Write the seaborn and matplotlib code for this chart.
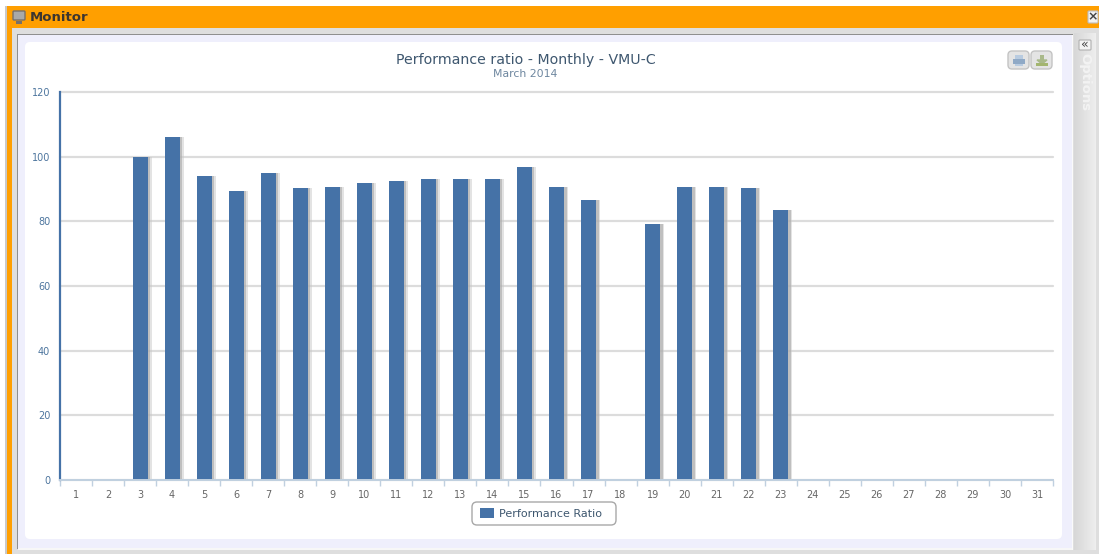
import numpy as np
import pandas as pd
import matplotlib
matplotlib.use("Agg")
import matplotlib.pyplot as plt
import matplotlib.patheffects as pe
from matplotlib.patches import FancyBboxPatch, Rectangle
import seaborn as sns

days = [str(d) for d in range(1, 32)]
performance = [np.nan, np.nan, 100, 106.2, 94, 89.5, 94.8, 90.2, 90.5, 92, 92.6, 93, 93, 93,
               96.8, 90.5, 86.7, np.nan, 79.3, 90.5, 90.7, 90.2, 83.5,
               np.nan, np.nan, np.nan, np.nan, np.nan, np.nan, np.nan, np.nan]
y_ticks = [0, 20, 40, 60, 80, 100, 120]
title = "Performance ratio - Monthly - VMU-C"
subtitle = "March 2014"
series_name = "Performance Ratio"

W, H = 1099, 554
blue = "#4572A7"
df = pd.DataFrame({"day": days, "value": performance})

sns.set_theme(style="white")
plt.rcParams["font.family"] = ["DejaVu Sans"]
fig = plt.figure(figsize=(W / 100, H / 100), dpi=100, facecolor="white")

# fenetre autour du graphique, en pixels
bg = fig.add_axes([0, 0, 1, 1], zorder=0)
bg.set_xlim(0, W)
bg.set_ylim(H, 0)
bg.axis("off")


def box(x0, y0, x1, y1, color, **kw):
    bg.add_patch(Rectangle((x0, y0), x1 - x0, y1 - y0, facecolor=color, edgecolor="none", **kw))


def rbox(x0, y0, x1, y1, color, edge="none", r=4, lw=1):
    bg.add_patch(FancyBboxPatch((x0 + r, y0 + r), x1 - x0 - 2 * r, y1 - y0 - 2 * r,
                                boxstyle=f"round,pad={r}", facecolor=color, edgecolor=edge, linewidth=lw))


box(5, 6, 7, H, "#c9c9c9")
box(7, 6, W, 28, "#FF9F00")
box(7, 28, 12, H, "#FF9F00")
box(12, 28, W, H, "#dedede")
box(17, 34, 1073, 549, "#8f8f8f")
box(18, 35, 1072, 548, "#EFEFFC")
box(18, 548, 1073, 550, "#f7f7f7")
box(1072, 35, 1073, 550, "#fafafa")
rbox(25, 42, 1062, 539, "white", r=5)
# volet Options
bg.imshow(np.linspace(0.84, 0.93, 22).reshape(1, -1), cmap="gray", vmin=0, vmax=1,
          extent=(1074, 1096, 550, 33), aspect="auto", zorder=1)
bg.set_xlim(0, W)
bg.set_ylim(H, 0)
rbox(1079, 40, 1091, 50, "#f4f4f4", edge="#b0b0b0", r=1, lw=0.8)
bg.text(1085, 44.5, "«", ha="center", va="center", fontsize=9, color="#444444")
bg.text(1085, 82.5, "Options", rotation=270, ha="center", va="center", fontsize=9.5,
        fontweight="bold", color="#f3f3f3", zorder=3)

# barre de titre
rbox(13, 11, 25, 20, "#a9a9a9", edge="#77706a", r=1, lw=1)
box(16, 21, 22, 24, "#77706a")
bg.text(30, 17.5, "Monitor", ha="left", va="center", fontsize=9.5, fontweight="bold",
        color="#3c3530")
rbox(1088, 11, 1098, 23, "#f2f2f2", edge="#bdbdbd", r=1, lw=0.8)
bg.text(1093, 17, "×", ha="center", va="center", fontsize=9, fontweight="bold", color="#444444")

# boutons impression / export
rbox(1008, 51, 1029, 69, "#e4e4e4", edge="#c4c4c4", r=4)
rbox(1031, 51, 1052, 69, "#e4e4e4", edge="#c4c4c4", r=4)
box(1015, 55, 1023, 59, "#b8cbe0")
box(1013, 59, 1025, 64, "#8fa9c6")
box(1015, 64, 1023, 66, "#b8cbe0")
box(1040, 55, 1044, 60, "#a9b98a")
bg.fill([1037, 1047, 1042], [60, 60, 64], color="#a9b98a")
box(1036, 63, 1048, 66, "#a3b56f")

# cadre de la legende
rbox(472, 502, 616, 525, "white", edge="#a8a8a8", r=5, lw=1)

ax = fig.add_axes([60 / W, 1 - 480 / H, (1053 - 60) / W, (480 - 92) / H], zorder=2)
ax.patch.set_alpha(0)
ax.yaxis.grid(True, color="#dcdcdc", linewidth=1.6, clip_on=False)
ax.set_axisbelow(True)
sns.barplot(data=df, x="day", y="value", order=days, color=blue, saturation=1,
            width=0.47, linewidth=0, ax=ax, label=series_name)
for bar in ax.patches:
    bar.set_path_effects([pe.SimplePatchShadow(offset=(3, 0), shadow_rgbFace="#c8c8c8", alpha=0.5),
                          pe.SimplePatchShadow(offset=(1.8, 0), shadow_rgbFace="#a8a8a8", alpha=0.6),
                          pe.Normal()])

ax.set_xlim(-0.5, 30.5)
ax.set_ylim(0, 120)
ax.set_yticks(y_ticks)
ax.set_xlabel("")
ax.set_ylabel("")
ax.tick_params(axis="y", length=0, pad=7, labelsize=7, labelcolor="#4d759e")
ax.tick_params(axis="x", length=0, pad=7, labelsize=7, labelcolor="#666666")
for sp in ["top", "right"]:
    ax.spines[sp].set_visible(False)
ax.spines["left"].set_color(blue)
ax.spines["left"].set_linewidth(1.6)
ax.spines["bottom"].set_color("#C0D0E0")
ax.spines["bottom"].set_linewidth(1.4)
# graduations entre les categories, comme dans l'original
ax.set_xticks(np.arange(-0.5, 31, 1), minor=True)
ax.tick_params(axis="x", which="minor", length=4, width=1, color="#C0D0E0", direction="out", bottom=True)

fig.text(525.5 / W, 1 - 60 / H, title, ha="center", va="center", fontsize=10.2, color="#3E576F")
fig.text(525.5 / W, 1 - 74 / H, subtitle, ha="center", va="center", fontsize=7.8, color="#6D869F")

leg = ax.legend(loc="center left", bbox_to_anchor=(480 / W, 1 - 513.5 / H), bbox_transform=fig.transFigure,
                frameon=False, fontsize=8, labelcolor="#3E576F", borderpad=0, borderaxespad=0,
                handlelength=1.26, handleheight=0.9, handletextpad=0.45)
for h in leg.legend_handles:
    h.set_path_effects([])

fig.savefig("out.png", dpi=100, facecolor="white")
